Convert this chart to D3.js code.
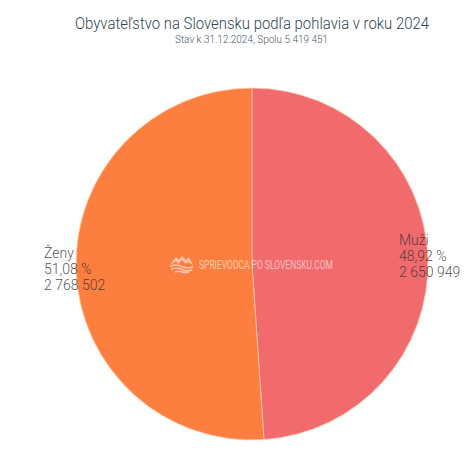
<!DOCTYPE html>
<html>
<head>
<meta charset="utf-8">
<script src="https://cdn.jsdelivr.net/npm/d3@7"></script>
<style>
html, body { margin: 0; padding: 0; background: #fff; }
text { font-family: Roboto, sans-serif; }
</style>
</head>
<body>
<div id="chart"></div>
<script>
var categories = ["Muži", "Ženy"];
var people = [2650949, 2768502];
var percentLabels = ["48,92 %", "51,08 %"];
var peopleLabels = ["2 650 949", "2 768 502"];
var colors = ["#f16a6d", "#fd7f3f"];

var w = 474, h = 474;
var cx = 252, cy = 264, radius = 176;

var svg = d3.select("#chart").append("svg")
	.attr("width", w)
	.attr("height", h)
	.attr("viewBox", "0 0 " + w + " " + h)
	.style("display", "block");

svg.append("text")
	.attr("x", 75)
	.attr("y", 29)
	.attr("font-size", 15.6)
	.attr("font-weight", 300)
	.attr("textLength", 354)
	.attr("lengthAdjust", "spacingAndGlyphs")
	.style("fill", "#2f4554")
	.text("Obyvateľstvo na Slovensku podľa pohlavia v roku 2024");

svg.append("text")
	.attr("x", 175)
	.attr("y", 43)
	.attr("font-size", 10.4)
	.attr("font-weight", 300)
	.attr("textLength", 153)
	.attr("lengthAdjust", "spacingAndGlyphs")
	.style("fill", "#4a5a68")
	.text("Stav k 31.12.2024, Spolu 5 419 451");

var pie = d3.pie().sort(null);
var arc = d3.arc().innerRadius(0).outerRadius(radius);

var g = svg.append("g").attr("transform", "translate(" + cx + "," + cy + ")");

g.selectAll("path")
	.data(pie(people))
	.enter().append("path")
	.attr("d", arc)
	.attr("fill", function(d, i) { return colors[i]; })
	.attr("stroke", "#ffc9a8")
	.attr("stroke-width", 0.8);

var labelX = [399, 44];
var labelY = [245, 258];

categories.forEach(function(name, i) {
	var lab = svg.append("text")
		.attr("font-size", 14)
		.attr("font-weight", 300)
		.style("fill", "#333")
		.attr("fill-opacity", 0.85);
	[name, percentLabels[i], peopleLabels[i]].forEach(function(line, j) {
		lab.append("tspan")
			.attr("x", labelX[i])
			.attr("y", labelY[i] + j * 16)
			.text(line);
	});
});

// watermark
var mark = svg.append("g").attr("opacity", 0.55);
mark.append("path")
	.attr("d", "M170 265 L176 257 L179 260 L182 256 L186 260 L189 257 L193 265 L188 262 L186 264 L182 260 L178 264 L176 261 Z")
	.attr("fill", "#fff");
mark.append("path")
	.attr("d", "M170 266.5 Q176 263.5 182 266.5 T193 266.5 M171 269.5 Q177 266.5 182 269.5 T192 269.5 M175 272 Q179 270.5 182 272 T189 272")
	.attr("fill", "none")
	.attr("stroke", "#fff")
	.attr("stroke-width", 1.5);
mark.append("text")
	.attr("x", 199)
	.attr("y", 269)
	.attr("font-size", 12.4)
	.attr("textLength", 134)
	.attr("lengthAdjust", "spacingAndGlyphs")
	.style("fill", "#fff")
	.text("SPRIEVODCA PO SLOVENSKU.COM");
</script>
</body>
</html>
